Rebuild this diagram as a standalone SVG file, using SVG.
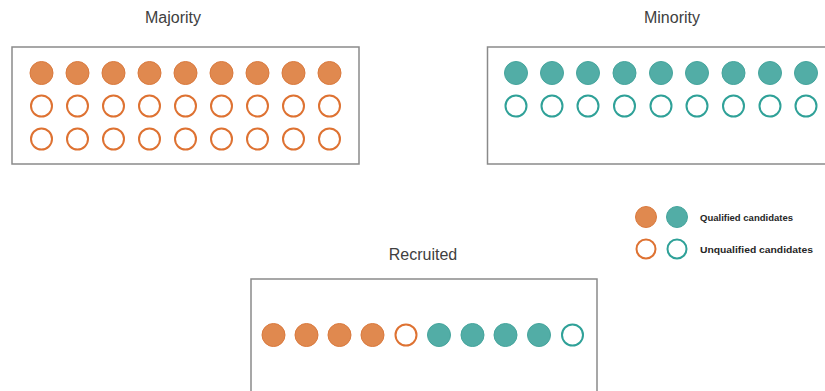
<svg xmlns="http://www.w3.org/2000/svg" width="825" height="391" viewBox="0 0 825 391">
<style>
.box{fill:#fff;stroke:#8a8a8a;stroke-width:1.5}
.title{font-family:"Liberation Sans",Arial,sans-serif;font-size:16px;fill:#404040;text-anchor:middle}
.leg{font-family:"Liberation Sans",Arial,sans-serif;font-size:8.5px;font-weight:bold;fill:#262626}
.of{fill:#E0894F;stroke:#DA7A3E;stroke-width:1}
.oo{fill:#fff;stroke:#DE7232;stroke-width:2}
.tf{fill:#52ADA6;stroke:#45A59D;stroke-width:1}
.to{fill:#fff;stroke:#2FA198;stroke-width:2}
</style>
<rect width="825" height="391" fill="#fff"/>
<g id="majority">
<text class="title" x="173" y="23">Majority</text>
<rect class="box" x="12" y="47" width="347" height="117"/>
<g>
<circle class="of" cx="41.5" cy="73" r="11.5"/><circle class="of" cx="77.5" cy="73" r="11.5"/><circle class="of" cx="113.5" cy="73" r="11.5"/><circle class="of" cx="149.5" cy="73" r="11.5"/><circle class="of" cx="185.5" cy="73" r="11.5"/><circle class="of" cx="221.5" cy="73" r="11.5"/><circle class="of" cx="257.5" cy="73" r="11.5"/><circle class="of" cx="293.5" cy="73" r="11.5"/><circle class="of" cx="329.5" cy="73" r="11.5"/>
</g>
<g>
<circle class="oo" cx="41.5" cy="106" r="10.5"/><circle class="oo" cx="77.5" cy="106" r="10.5"/><circle class="oo" cx="113.5" cy="106" r="10.5"/><circle class="oo" cx="149.5" cy="106" r="10.5"/><circle class="oo" cx="185.5" cy="106" r="10.5"/><circle class="oo" cx="221.5" cy="106" r="10.5"/><circle class="oo" cx="257.5" cy="106" r="10.5"/><circle class="oo" cx="293.5" cy="106" r="10.5"/><circle class="oo" cx="329.5" cy="106" r="10.5"/>
<circle class="oo" cx="41.5" cy="139" r="10.5"/><circle class="oo" cx="77.5" cy="139" r="10.5"/><circle class="oo" cx="113.5" cy="139" r="10.5"/><circle class="oo" cx="149.5" cy="139" r="10.5"/><circle class="oo" cx="185.5" cy="139" r="10.5"/><circle class="oo" cx="221.5" cy="139" r="10.5"/><circle class="oo" cx="257.5" cy="139" r="10.5"/><circle class="oo" cx="293.5" cy="139" r="10.5"/><circle class="oo" cx="329.5" cy="139" r="10.5"/>
</g>
</g>
<g id="minority">
<text class="title" x="672" y="23">Minority</text>
<rect class="box" x="487.5" y="47" width="345" height="117"/>
<circle class="tf" cx="516" cy="73" r="11.5"/><circle class="tf" cx="552" cy="73" r="11.5"/><circle class="tf" cx="588" cy="73" r="11.5"/><circle class="tf" cx="624.5" cy="73" r="11.5"/><circle class="tf" cx="661" cy="73" r="11.5"/><circle class="tf" cx="697" cy="73" r="11.5"/><circle class="tf" cx="733.5" cy="73" r="11.5"/><circle class="tf" cx="770" cy="73" r="11.5"/><circle class="tf" cx="806" cy="73" r="11.5"/>
<circle class="to" cx="516" cy="106" r="10.5"/><circle class="to" cx="552" cy="106" r="10.5"/><circle class="to" cx="588" cy="106" r="10.5"/><circle class="to" cx="624.5" cy="106" r="10.5"/><circle class="to" cx="661" cy="106" r="10.5"/><circle class="to" cx="697" cy="106" r="10.5"/><circle class="to" cx="733.5" cy="106" r="10.5"/><circle class="to" cx="770" cy="106" r="10.5"/><circle class="to" cx="806" cy="106" r="10.5"/>
</g>
<g id="legend">
<circle class="of" cx="646" cy="217" r="10.5"/>
<circle class="tf" cx="677" cy="217" r="10.5"/>
<circle class="oo" cx="646" cy="249" r="9.5"/>
<circle class="to" cx="677" cy="249" r="9.5"/>
<text class="leg" x="700" y="220.5" textLength="93" lengthAdjust="spacingAndGlyphs">Qualified candidates</text>
<text class="leg" x="700" y="252.5" textLength="113" lengthAdjust="spacingAndGlyphs">Unqualified candidates</text>
</g>
<g id="recruited">
<text class="title" x="423" y="260">Recruited</text>
<rect class="box" x="251" y="279" width="346" height="120"/>
<circle class="of" cx="273.5" cy="335" r="11.5"/><circle class="of" cx="306.5" cy="335" r="11.5"/><circle class="of" cx="339.5" cy="335" r="11.5"/><circle class="of" cx="372.5" cy="335" r="11.5"/>
<circle class="oo" cx="406" cy="335" r="10.5"/>
<circle class="tf" cx="439" cy="335" r="11.5"/><circle class="tf" cx="472.5" cy="335" r="11.5"/><circle class="tf" cx="505.5" cy="335" r="11.5"/><circle class="tf" cx="539" cy="335" r="11.5"/>
<circle class="to" cx="572.5" cy="335" r="10.5"/>
</g>
<g id="connectors"/>
</svg>
